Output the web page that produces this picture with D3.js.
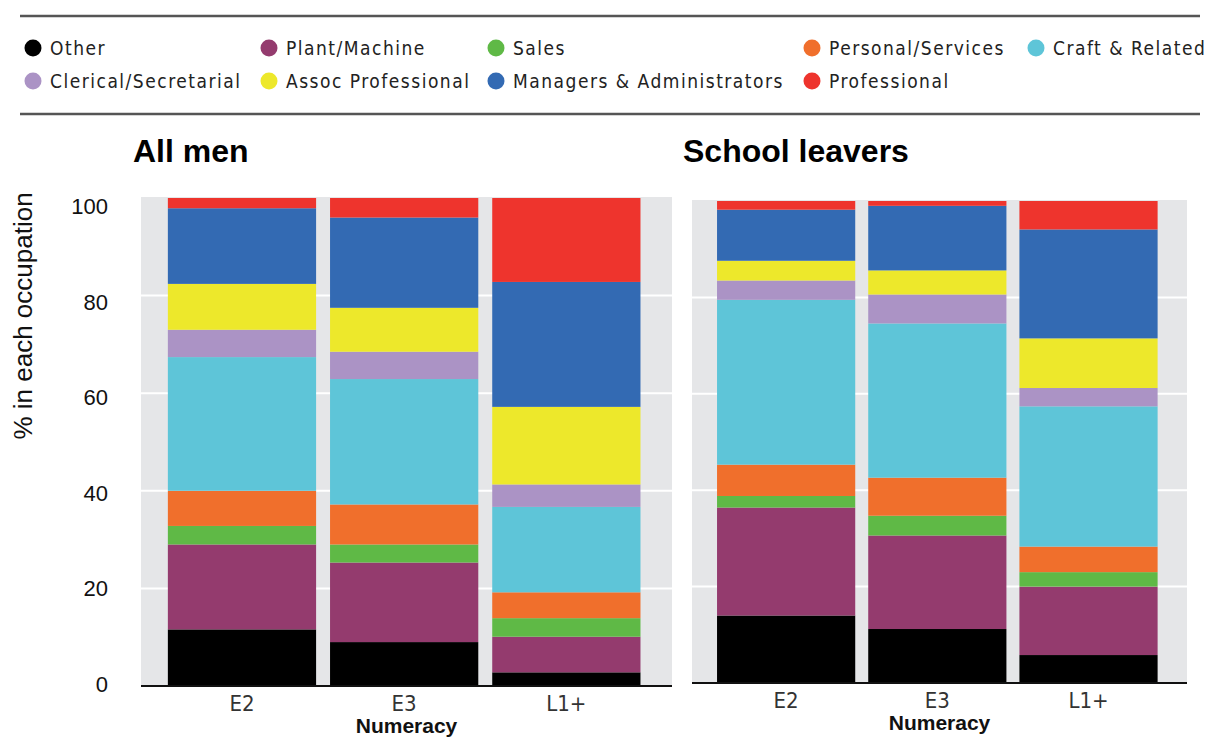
<!DOCTYPE html>
<html>
<head>
<meta charset="utf-8">
<script src="https://cdn.jsdelivr.net/npm/d3@7/dist/d3.min.js"></script>
<style>
  html, body { margin: 0; padding: 0; background: #ffffff; }
  svg { display: block; }
</style>
</head>
<body>
<svg id="chart" width="1206" height="740"></svg>
<script>
// ---------- data ----------
const categories = ["E2", "E3", "L1+"];
const occupations = ["Other", "Plant/Machine", "Sales", "Personal/Services", "Craft & Related",
                     "Clerical/Secretarial", "Assoc Professional", "Managers & Administrators", "Professional"];
const occupationColors = ["#000000", "#943b6e", "#5fb946", "#f06f2c", "#5ec5d8",
                          "#ab93c5", "#ede82b", "#336ab3", "#ee342d"];
// percentages, bottom to top, in the order of `occupations`
const allMenE2 = [11.6, 17.4, 3.8, 7.2, 27.4, 5.6, 9.4, 15.5, 2.1];
const allMenE3 = [9.0, 16.3, 3.7, 8.2, 25.7, 5.6, 9.0, 18.5, 4.0];
const allMenL1 = [2.8, 7.3, 3.8, 5.3, 17.5, 4.6, 15.9, 25.6, 17.2];
const leaversE2 = [14.0, 22.4, 2.4, 6.5, 34.2, 4.0, 4.1, 10.6, 1.8];
const leaversE3 = [11.2, 19.4, 4.1, 7.9, 32.0, 6.0, 5.0, 13.4, 1.0];
const leaversL1 = [5.8, 14.2, 3.0, 5.3, 29.1, 3.8, 10.3, 22.6, 5.9];
const yTicks = [0, 20, 40, 60, 80, 100];
const panelTitles = ["All men", "School leavers"];
const xTitle = "Numeracy";
const yTitle = "% in each occupation";

// ---------- setup ----------
const svg = d3.select("#chart");
const SANS = "'Liberation Sans', Arial, Helvetica, sans-serif";
const COND = "'DejaVu Sans Condensed', 'Liberation Sans Narrow', sans-serif";
const color = d3.scaleOrdinal().domain(occupations).range(occupationColors);

// ---------- legend ----------
svg.append("line").attr("x1", 20).attr("x2", 1200).attr("y1", 16).attr("y2", 16)
   .attr("stroke", "#555").attr("stroke-width", 2.5);
svg.append("line").attr("x1", 20).attr("x2", 1200).attr("y1", 114).attr("y2", 114)
   .attr("stroke", "#555").attr("stroke-width", 2.5);

const legendCols = [33, 269, 496, 812, 1036];
const legendRows = [48, 81];
// column-wise fill, 2 rows
const legendOrder = ["Other", "Clerical/Secretarial", "Plant/Machine", "Assoc Professional",
                     "Sales", "Managers & Administrators", "Personal/Services", "Professional", "Craft & Related"];
const legendPos = [[0,0],[0,1],[1,0],[1,1],[2,0],[2,1],[3,0],[3,1],[4,0]];
const lg = svg.append("g").selectAll("g").data(legendOrder).join("g")
  .attr("transform", (d, i) => `translate(${legendCols[legendPos[i][0]]},${legendRows[legendPos[i][1]]})`);
lg.append("circle").attr("r", 8.5).attr("fill", d => color(d));
lg.append("text").attr("x", 17).attr("y", 7)
  .attr("font-family", COND).attr("font-size", 19).attr("letter-spacing", 1.5)
  .attr("fill", "#222").text(d => d);

// ---------- panels ----------
const panels = [
  { title: panelTitles[0], rows: [allMenE2, allMenE3, allMenL1], x0: 141, x1: 672, yTop: 198, yBot: 686, titleX: 133, showY: true },
  { title: panelTitles[1], rows: [leaversE2, leaversE3, leaversL1], x0: 692, x1: 1187, yTop: 201, yBot: 683, titleX: 683, showY: false }
];

panels.forEach(p => {
  const table = categories.map((c, i) => {
    const o = { cat: c };
    occupations.forEach((k, j) => o[k] = p.rows[i][j]);
    return o;
  });
  const series = d3.stack().keys(occupations)(table);

  const x = d3.scaleBand().domain(categories).range([p.x0, p.x1])
    .paddingInner(0.086).paddingOuter(0.18).align(0.46);
  const y = d3.scaleLinear().domain([0, 100]).range([p.yBot, p.yTop]);

  const g = svg.append("g");
  // background
  g.append("rect").attr("x", p.x0).attr("y", y(100) - 1)
    .attr("width", p.x1 - p.x0).attr("height", y(0) - y(100) + 1).attr("fill", "#e5e6e8");
  // grid
  g.append("g").selectAll("line").data(yTicks.filter(t => t > 0 && t < 100)).join("line")
    .attr("x1", p.x0).attr("x2", p.x1).attr("y1", d => y(d)).attr("y2", d => y(d))
    .attr("stroke", "#ffffff").attr("stroke-width", 2);
  // bars
  g.append("g").selectAll("g").data(series).join("g")
    .attr("fill", d => color(d.key))
    .selectAll("rect").data(d => d).join("rect")
    .attr("x", d => x(d.data.cat)).attr("width", x.bandwidth())
    .attr("y", d => y(d[1])).attr("height", d => y(d[0]) - y(d[1]));
  // x axis
  const xa = g.append("g").attr("transform", `translate(0,${p.yBot})`)
    .call(d3.axisBottom(x).tickSize(0).tickPadding(9));
  xa.select(".domain").remove();
  xa.selectAll("text").attr("font-family", COND).attr("font-size", 22).attr("fill", "#333");
  g.append("line").attr("x1", p.x0).attr("x2", p.x1).attr("y1", y(0)).attr("y2", y(0))
    .attr("stroke", "#111").attr("stroke-width", 2);
  // x title
  g.append("text").attr("x", (p.x0 + p.x1) / 2).attr("y", p.yBot + 47)
    .attr("text-anchor", "middle").attr("font-family", SANS).attr("font-weight", "bold")
    .attr("font-size", 21).attr("fill", "#111").text(xTitle);
  // panel title
  g.append("text").attr("x", p.titleX).attr("y", 162)
    .attr("font-family", SANS).attr("font-weight", "bold").attr("font-size", 32)
    .attr("fill", "#000").text(p.title);

  if (p.showY) {
    const yLab = d3.scaleLinear().domain([0, 100]).range([p.yBot - 2.5, p.yTop + 7.5]);
    const ya = g.append("g").attr("transform", "translate(108,0)")
      .call(d3.axisLeft(yLab).tickValues(yTicks).tickSize(0).tickPadding(0));
    ya.select(".domain").remove();
    ya.selectAll("text").attr("font-family", SANS).attr("font-size", 22)
      .attr("fill", "#111").attr("dy", "0.36em");
    g.append("text").attr("transform", "translate(32,316) rotate(-90)")
      .attr("text-anchor", "middle").attr("font-family", SANS).attr("font-size", 26)
      .attr("fill", "#111").text(yTitle);
  }
});
</script>
</body>
</html>
